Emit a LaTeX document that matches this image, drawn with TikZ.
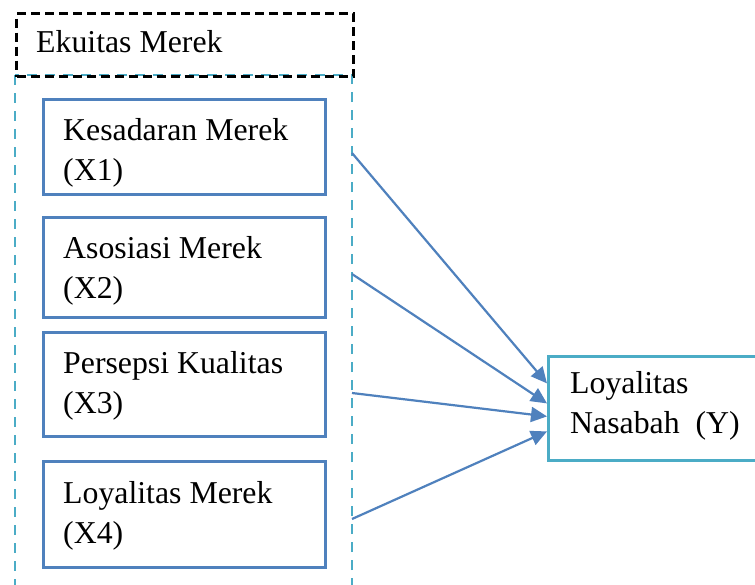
\documentclass[tikz,border=0pt]{standalone}
\usepackage{fontspec}
\setmainfont{Liberation Serif}
\usetikzlibrary{arrows.meta}
\definecolor{boxblue}{HTML}{4F81BD}
\definecolor{framecyan}{HTML}{4BACC6}

\begin{document}
\begin{tikzpicture}[x=1pt,y=-1pt,
    variabel/.style ={rectangle, draw=boxblue, line width=2.5pt, inner sep=0pt, minimum width=282pt, anchor=north west},
    teks/.style ={anchor=base west, align=left, inner sep=0pt, font=\fontsize{31.8}{40}\selectfont},
    panah/.style ={draw=boxblue, line width=2.2pt, -{Triangle[length=16pt,width=15pt]}}]
   \clip (0,0) rectangle (755,584);
   \fill[white] (0,0) rectangle (755,584);

   % bingkai ekuitas merek
   \draw[framecyan, line width=2.8pt, dash pattern=on 10pt off 8pt] (15,75) rectangle (352,640);
   \node[draw, line width=3pt, dash pattern=on 9pt off 5pt, inner sep=0pt,
         minimum width=337pt, minimum height=63pt, anchor=north west] (ekuitas) at (15,12) {};
   \node[teks] (lekuitas) at (36,52) {Ekuitas Merek};

   % variabel X (anchor = baris kedua)
   \node[variabel, minimum height=95pt]  (x1) at (42,98)  {};
   \node[teks] (lx1) at (63,180) {Kesadaran Merek\\(X1)};
   \node[variabel, minimum height=100pt] (x2) at (42,216) {};
   \node[teks] (lx2) at (63,298) {Asosiasi Merek\\(X2)};
   \node[variabel, minimum height=104pt] (x3) at (42,331) {};
   \node[teks] (lx3) at (63,413) {Persepsi Kualitas\\(X3)};
   \node[variabel, minimum height=106pt] (x4) at (42,460) {};
   \node[teks] (lx4) at (63,543) {Loyalitas Merek\\(X4)};

   % variabel Y
   \node[draw=framecyan, line width=2.8pt, inner sep=0pt,
         minimum width=240pt, minimum height=104pt, anchor=north west] (y) at (547,355) {};
   \node[teks] (ly) at (570,433) {Loyalitas\\Nasabah~~(Y)};

   \coordinate (s1) at (352,153);
   \coordinate (s2) at (352,274);
   \coordinate (s3) at (352,393);
   \coordinate (s4) at (352,519);

   \draw[panah] (s1) -- ([yshift=25pt]y.west);
   \draw[panah] (s2) -- ([yshift=5pt]y.west);
   \draw[panah] (s3) -- ([yshift=-8pt]y.west);
   \draw[panah] (s4) -- ([yshift=-23pt]y.west);
 \end{tikzpicture}
\end{document}
